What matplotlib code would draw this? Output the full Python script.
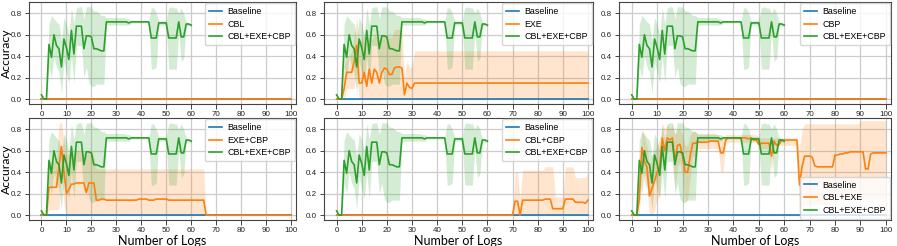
import matplotlib
matplotlib.use("Agg")
import matplotlib.pyplot as plt

x_full = list(range(0, 101))
x_green = list(range(0, 61))

baseline = [0.0] * 101

green_mean = [0.04, 0.0, 0.0, 0.51, 0.39, 0.60, 0.50, 0.47, 0.30, 0.56,
              0.48, 0.37, 0.64, 0.42, 0.68, 0.68, 0.68, 0.47, 0.59, 0.59,
              0.58, 0.47, 0.47, 0.46, 0.45, 0.45, 0.72, 0.72, 0.72, 0.72,
              0.72, 0.72, 0.72, 0.72, 0.72, 0.71, 0.72, 0.72, 0.72, 0.72,
              0.72, 0.72, 0.72, 0.72, 0.57, 0.57, 0.57, 0.71, 0.71, 0.71,
              0.71, 0.57, 0.57, 0.57, 0.57, 0.72, 0.58, 0.58, 0.70, 0.70,
              0.69]
green_upper = [0.04, 0.0, 0.0, 0.70, 0.78, 0.75, 0.72, 0.70, 0.55, 0.76,
               0.70, 0.60, 0.85, 0.70, 0.85, 0.86, 0.86, 0.75, 0.86, 0.86,
               0.86, 0.82, 0.82, 0.80, 0.78, 0.78, 0.76, 0.76, 0.76, 0.76,
               0.76, 0.76, 0.76, 0.76, 0.75, 0.75, 0.73, 0.73, 0.73, 0.73,
               0.73, 0.73, 0.73, 0.73, 0.85, 0.85, 0.80, 0.73, 0.73, 0.73,
               0.73, 0.85, 0.86, 0.85, 0.85, 0.80, 0.85, 0.80, 0.72, 0.71,
               0.70]
green_lower = [0.04, 0.0, 0.0, 0.30, 0.20, 0.40, 0.30, 0.25, 0.05, 0.35,
               0.25, 0.15, 0.40, 0.15, 0.50, 0.50, 0.50, 0.20, 0.30, 0.15,
               0.12, 0.12, 0.14, 0.14, 0.14, 0.14, 0.69, 0.69, 0.69, 0.69,
               0.69, 0.69, 0.69, 0.69, 0.69, 0.69, 0.71, 0.71, 0.71, 0.71,
               0.71, 0.71, 0.71, 0.71, 0.28, 0.28, 0.30, 0.69, 0.69, 0.69,
               0.69, 0.28, 0.28, 0.28, 0.28, 0.62, 0.35, 0.38, 0.68, 0.68,
               0.68]

cbl_mean = [0.0] * 101
cbl_upper = [0.0] * 101
cbl_lower = [0.0] * 101

cbp_mean = [0.0] * 101
cbp_upper = [0.0] * 101
cbp_lower = [0.0] * 101

exe_mean = ([0.0, 0.0, 0.0, 0.10, 0.25, 0.25, 0.25, 0.35, 0.50, 0.15,
             0.15, 0.25, 0.12, 0.28, 0.15, 0.28, 0.25, 0.15, 0.25, 0.29,
             0.28, 0.23, 0.23, 0.29, 0.30, 0.30, 0.29, 0.04, 0.15, 0.11,
             0.10] + [0.15] * 70)
exe_upper = ([0.0, 0.0, 0.0, 0.30, 0.40, 0.40, 0.45, 0.60, 0.75, 0.55,
              0.55, 0.60, 0.50, 0.60, 0.55, 0.60, 0.58, 0.55, 0.60, 0.60,
              0.60, 0.58, 0.58, 0.65, 0.65, 0.65, 0.65, 0.20, 0.35, 0.30,
              0.30] + [0.45] * 70)
exe_lower = ([0.0, 0.0, 0.0, 0.0, 0.10, 0.10, 0.10, 0.10, 0.25, 0.0]
             + [0.0] * 91)

exe_cbp_mean = ([0.0, 0.0, 0.0, 0.26, 0.26, 0.26, 0.26, 0.45, 0.64, 0.40,
                 0.20, 0.24, 0.29, 0.29, 0.30, 0.30, 0.30, 0.30, 0.21, 0.30,
                 0.30, 0.30, 0.14, 0.14, 0.15, 0.15, 0.14, 0.14, 0.14, 0.14,
                 0.14, 0.14, 0.14, 0.14, 0.14, 0.14, 0.14, 0.14, 0.14, 0.15,
                 0.15, 0.15, 0.15, 0.14, 0.14, 0.14, 0.15, 0.15, 0.15, 0.15,
                 0.15, 0.14, 0.14, 0.14, 0.14, 0.14, 0.14, 0.14, 0.14, 0.14,
                 0.14, 0.14, 0.14, 0.14, 0.14, 0.14] + [0.0] * 35)
exe_cbp_upper = ([0.0, 0.0, 0.0, 0.50, 0.50, 0.50, 0.50, 0.85, 0.87, 0.70,
                  0.55, 0.58, 0.60, 0.60, 0.60, 0.60, 0.60, 0.60, 0.55, 0.60,
                  0.60, 0.55] + [0.43] * 44 + [0.0] * 35)
exe_cbp_lower = ([0.0, 0.0, 0.0, 0.05, 0.05, 0.05, 0.05, 0.05, 0.40, 0.10]
                 + [0.0] * 91)

cbl_cbp_mean = ([0.0] * 71 + [0.13, 0.13, 0.0, 0.14, 0.14, 0.14, 0.14, 0.14,
                              0.14, 0.14, 0.14, 0.14, 0.15, 0.15, 0.15, 0.06,
                              0.06, 0.06, 0.06, 0.06, 0.15, 0.15, 0.15, 0.15,
                              0.12, 0.12, 0.12, 0.12, 0.11, 0.14])
cbl_cbp_upper = ([0.0] * 71 + [0.40, 0.40, 0.15, 0.42, 0.42, 0.42, 0.42, 0.42,
                               0.42, 0.42, 0.42, 0.42, 0.45, 0.45, 0.45, 0.45,
                               0.17, 0.17, 0.17, 0.17, 0.45, 0.45, 0.45, 0.45,
                               0.35, 0.35, 0.35, 0.35, 0.35, 0.40])
cbl_cbp_lower = [0.0] * 101

cbl_exe_mean = [0.0, 0.0, 0.0, 0.15, 0.63, 0.50, 0.45, 0.18, 0.25, 0.32,
                0.40, 0.45, 0.72, 0.60, 0.72, 0.70, 0.72, 0.50, 0.65, 0.66,
                0.55, 0.40, 0.40, 0.55, 0.67, 0.67, 0.68, 0.68, 0.68, 0.68,
                0.68, 0.69, 0.69, 0.69, 0.69, 0.58, 0.58, 0.70, 0.72, 0.72,
                0.72, 0.72, 0.72, 0.72, 0.72, 0.72, 0.71, 0.72, 0.70, 0.70,
                0.66, 0.67, 0.67, 0.67, 0.67, 0.55, 0.69, 0.65, 0.66, 0.70,
                0.70, 0.70, 0.70, 0.70, 0.70, 0.70, 0.28, 0.45, 0.55, 0.55,
                0.55, 0.54, 0.46, 0.45, 0.45, 0.45, 0.45, 0.45, 0.45, 0.45,
                0.56, 0.56, 0.57, 0.57, 0.58, 0.58, 0.59, 0.59, 0.59, 0.59,
                0.59, 0.59, 0.43, 0.43, 0.57, 0.58, 0.58, 0.58, 0.58, 0.58,
                0.58]
cbl_exe_upper = [0.0, 0.0, 0.0, 0.30, 0.80, 0.75, 0.65, 0.45, 0.55, 0.60,
                 0.65, 0.70, 0.85, 0.80, 0.85, 0.80, 0.85, 0.75, 0.80, 0.80,
                 0.75, 0.65, 0.65, 0.75, 0.78, 0.78, 0.75, 0.75, 0.75, 0.75,
                 0.75, 0.75, 0.75, 0.75, 0.75, 0.72, 0.72, 0.75, 0.75, 0.75,
                 0.75, 0.75, 0.75, 0.75, 0.75, 0.75, 0.75, 0.75, 0.75, 0.75,
                 0.72, 0.72, 0.72, 0.72, 0.72, 0.70, 0.72, 0.72, 0.72, 0.72,
                 0.72, 0.72, 0.72, 0.72, 0.72, 0.72, 0.60, 0.80, 0.85, 0.85,
                 0.85, 0.85, 0.85, 0.85, 0.85, 0.85, 0.85, 0.85, 0.85, 0.85,
                 0.85, 0.85, 0.85, 0.85, 0.85, 0.85, 0.85, 0.85, 0.85, 0.85,
                 0.88, 0.88, 0.88, 0.88, 0.88, 0.88, 0.88, 0.88, 0.88, 0.88,
                 0.88]
cbl_exe_lower = [0.0, 0.0, 0.0, 0.0, 0.45, 0.30, 0.25, 0.0, 0.0, 0.05,
                 0.15, 0.20, 0.60, 0.40, 0.60, 0.60, 0.60, 0.25, 0.45, 0.50,
                 0.35, 0.12, 0.15, 0.35, 0.55, 0.55, 0.62, 0.62, 0.62, 0.62,
                 0.62, 0.62, 0.62, 0.62, 0.62, 0.40, 0.40, 0.68, 0.68, 0.68,
                 0.68, 0.68, 0.68, 0.68, 0.68, 0.68, 0.68, 0.68, 0.68, 0.68,
                 0.60, 0.62, 0.62, 0.62, 0.62, 0.40, 0.65, 0.65, 0.65, 0.65,
                 0.65, 0.65, 0.65, 0.65, 0.65, 0.65, 0.0, 0.05, 0.10, 0.10,
                 0.10, 0.10, 0.10, 0.10, 0.10, 0.10, 0.10, 0.10, 0.10, 0.10,
                 0.20, 0.20, 0.20, 0.20, 0.20, 0.20, 0.20, 0.20, 0.20, 0.20,
                 0.15, 0.15, 0.15, 0.15, 0.15, 0.15, 0.15, 0.15, 0.15, 0.15,
                 0.15]

panels = [
    ("CBL", cbl_mean, cbl_lower, cbl_upper),
    ("EXE", exe_mean, exe_lower, exe_upper),
    ("CBP", cbp_mean, cbp_lower, cbp_upper),
    ("EXE+CBP", exe_cbp_mean, exe_cbp_lower, exe_cbp_upper),
    ("CBL+CBP", cbl_cbp_mean, cbl_cbp_lower, cbl_cbp_upper),
    ("CBL+EXE", cbl_exe_mean, cbl_exe_lower, cbl_exe_upper),
]

small_font = "Liberation Sans"
tick_fs = 5.8
leg_fs = 6.4

W, H = 897, 246
fig = plt.figure(figsize=(W / 100, H / 100), dpi=100)

col_px = [(29, 296), (324, 593), (619, 891)]
row_px = [(2, 104), (118, 220)]

blue, orange, green = "#1f77b4", "#ff7f0e", "#2ca02c"

for i, (name, m, lo, up) in enumerate(panels):
    r, c = divmod(i, 3)
    x0, x1 = col_px[c]
    y0, y1 = row_px[r]
    ax = fig.add_axes([x0 / W, 1 - y1 / H, (x1 - x0) / W, (y1 - y0) / H])
    ax.plot(x_full, baseline, color=blue, lw=1.2, label="Baseline")
    ax.fill_between(x_full, lo, up, color=orange, alpha=0.2, lw=0)
    ax.plot(x_full, m, color=orange, lw=1.2, label=name)
    ax.fill_between(x_green, green_lower, green_upper, color=green, alpha=0.2, lw=0)
    ax.plot(x_green, green_mean, color=green, lw=1.2, label="CBL+EXE+CBP")
    ax.set_xlim(-5, 102)
    ax.set_ylim(-0.045, 0.905)
    ax.set_xticks(range(0, 101, 10))
    ax.set_yticks([0.0, 0.2, 0.4, 0.6, 0.8])
    ax.tick_params(axis="y", labelsize=tick_fs, length=3, width=0.6, pad=2,
                   colors="#222222")
    ax.tick_params(axis="x", labelsize=tick_fs, length=3.5, width=0.6, pad=1.5,
                   colors="#222222")
    for lab in ax.get_xticklabels() + ax.get_yticklabels():
        lab.set_family(small_font)
    ax.grid(True, color="#cccccc", lw=0.9)
    ax.set_axisbelow(True)
    for s in ax.spines.values():
        s.set_color("#444444")
        s.set_linewidth(0.8)
    loc = "lower right" if i == 5 else "upper right"
    ax.legend(loc=loc, prop={"family": small_font, "size": leg_fs},
              handlelength=1.4, handletextpad=0.6, borderpad=0.45,
              labelspacing=0.4, borderaxespad=0.15, framealpha=0.8)
    if c == 0:
        ax.set_ylabel("Accuracy", fontsize=8.8, family="Lato")
        ax.yaxis.set_label_coords(-0.064, 0.5)
    if r == 1:
        ax.set_xlabel("Number of Logs", fontsize=9, family="Lato", labelpad=0.5)

fig.savefig("out.png", dpi=100)
